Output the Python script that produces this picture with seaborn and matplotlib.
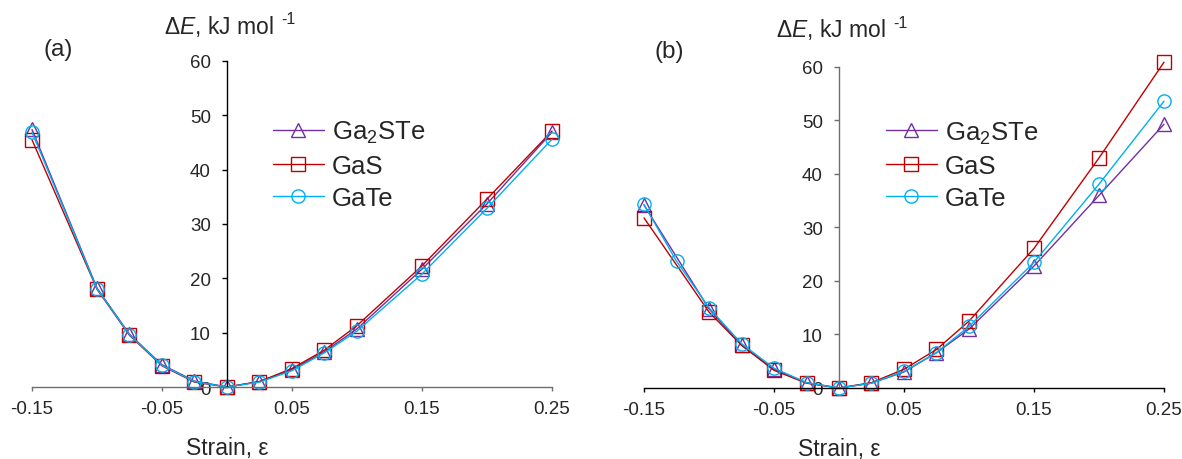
import matplotlib
matplotlib.use("Agg")
from matplotlib import pyplot as plt
import seaborn as sns
import pandas as pd
import numpy as np

# strain values (x) and energies (kJ/mol)
strain = [-0.15, -0.1, -0.075, -0.05, -0.025, 0.0, 0.025, 0.05, 0.075, 0.1, 0.15, 0.2, 0.25]
strain_b_gate = [-0.15, -0.125, -0.1, -0.075, -0.05, -0.025, 0.0, 0.025, 0.05, 0.075, 0.1, 0.15, 0.2, 0.25]

# panel (a)
a_ga2ste = [47.4, 18.2, 9.7, 4.1, 1.1, 0.0, 1.0, 3.2, 6.5, 10.7, 21.7, 33.7, 46.9]
a_gas = [45.5, 18.0, 9.5, 3.9, 0.9, 0.0, 1.0, 3.4, 6.8, 11.3, 22.3, 34.6, 47.1]
a_gate = [46.9, 18.1, 9.6, 4.0, 1.0, 0.0, 0.9, 3.0, 6.3, 10.3, 20.8, 32.9, 45.6]

# panel (b)
b_ga2ste = [34.2, 14.8, 8.0, 3.5, 1.0, 0.0, 0.9, 3.0, 6.6, 11.0, 22.8, 36.0, 49.3]
b_gas = [31.8, 14.2, 8.0, 3.3, 0.9, 0.0, 1.0, 3.5, 7.2, 12.5, 26.1, 43.0, 60.9]
b_gate = [34.3, 23.7, 15.0, 8.3, 3.7, 1.0, 0.0, 0.9, 3.1, 6.6, 11.5, 23.5, 38.1, 53.6]

materials = ["Ga2STe", "GaS", "GaTe"]
legend_labels = ["Ga$_2$STe", "GaS", "GaTe"]
xticks = [-0.15, -0.05, 0.05, 0.15, 0.25]
xticklabels = ["-0.15", "-0.05", "0.05", "0.15", "0.25"]
yticks = [0, 10, 20, 30, 40, 50, 60]

colors = {"Ga2STe": "#7030A0", "GaS": "#C00000", "GaTe": "#00B0F0"}
markers = {"Ga2STe": "^", "GaS": "s", "GaTe": "o"}
msizes = {"Ga2STe": 10.5, "GaS": 10, "GaTe": 9.5}


def long_df(series):
    parts = []
    for name, x, y in series:
        parts.append(pd.DataFrame({"strain": x, "dE": y, "Material": name}))
    return pd.concat(parts, ignore_index=True)


df_a = long_df([("Ga2STe", strain, a_ga2ste), ("GaS", strain, a_gas), ("GaTe", strain, a_gate)])
df_b = long_df([("Ga2STe", strain, b_ga2ste), ("GaS", strain, b_gas), ("GaTe", strain_b_gate, b_gate)])

sns.set_style("white")
plt.rcParams["font.family"] = ["Liberation Sans", "DejaVu Sans"]
plt.rcParams["mathtext.fontset"] = "custom"
plt.rcParams["mathtext.rm"] = "Liberation Sans"
plt.rcParams["mathtext.it"] = "Liberation Sans:italic"
plt.rcParams["axes.unicode_minus"] = False

fig = plt.figure(figsize=(11.82, 4.6), dpi=100)
ax_a = fig.add_axes([0.02707, 0.15652, 0.43993, 0.7087])
ax_b = fig.add_axes([0.54484, 0.15435, 0.43993, 0.69783])


def panel(ax, df, tag, xspine_col, yspine_col, leg_anchor, tag_pos, ylab_y, xlab_y):
    sns.lineplot(
        data=df, x="strain", y="dE", hue="Material", style="Material",
        hue_order=materials, style_order=materials,
        palette=colors, markers=markers, dashes=False,
        errorbar=None, legend=False, linewidth=1.0,
        markeredgewidth=1.0, clip_on=False, ax=ax,
    )
    for line, name in zip(ax.lines, materials):
        line.set_markeredgecolor(colors[name])
        line.set_markerfacecolor("none")
        line.set_markersize(msizes[name])

    ax.set_xlim(-0.15, 0.25)
    ax.set_ylim(0, 60)
    ax.spines["left"].set_position(("data", 0))
    ax.spines["bottom"].set_position(("data", 0))
    ax.spines["top"].set_visible(False)
    ax.spines["right"].set_visible(False)
    ax.spines["bottom"].set_color(xspine_col)
    ax.spines["left"].set_color(yspine_col)
    ax.spines["bottom"].set_linewidth(1.0)
    ax.spines["left"].set_linewidth(1.0)

    ax.set_xticks(xticks)
    ax.set_xticklabels(xticklabels)
    ax.set_yticks(yticks)
    ax.tick_params(axis="x", direction="out", length=3.2, width=1.0, color=xspine_col,
                   labelsize=13.5, pad=6.5, bottom=True)
    ax.tick_params(axis="y", direction="out", length=3.6, width=1.0, color=yspine_col,
                   labelsize=13.5, pad=8, left=True)
    ax.grid(False)

    ax.set_xlabel("Strain, ε", fontsize=16.5, va="center")
    ax.xaxis.set_label_coords(0.375, xlab_y)
    ax.set_ylabel("")

    t = ax.text(0.253, ylab_y, "Δ$E$, kJ mol", fontsize=16.5,
                ha="left", va="center", transform=ax.transAxes)
    ax.annotate("-1", xy=(1, 1), xycoords=t, xytext=(5.5, 1), textcoords="offset points",
                fontsize=11.5, ha="left", va="top")
    ax.text(tag_pos[0], tag_pos[1], tag, fontsize=17.5, ha="left", va="center",
            transform=ax.transAxes)

    ax.legend(list(ax.lines[:3]), legend_labels, loc="center left", bbox_to_anchor=leg_anchor,
              frameon=False, fontsize=18.5, handlelength=2.0, handletextpad=0.3,
              labelspacing=0.33, borderpad=0, borderaxespad=0, numpoints=1)


panel(ax_a, df_a, "(a)", "#6e6e6e", "black", (0.463, 0.682), (0.023, 1.037), 1.11, -0.185)
panel(ax_b, df_b, "(b)", "black", "#6e6e6e", (0.465, 0.695), (0.021, 1.05), 1.12, -0.19)

fig.savefig("out.png", dpi=100)
